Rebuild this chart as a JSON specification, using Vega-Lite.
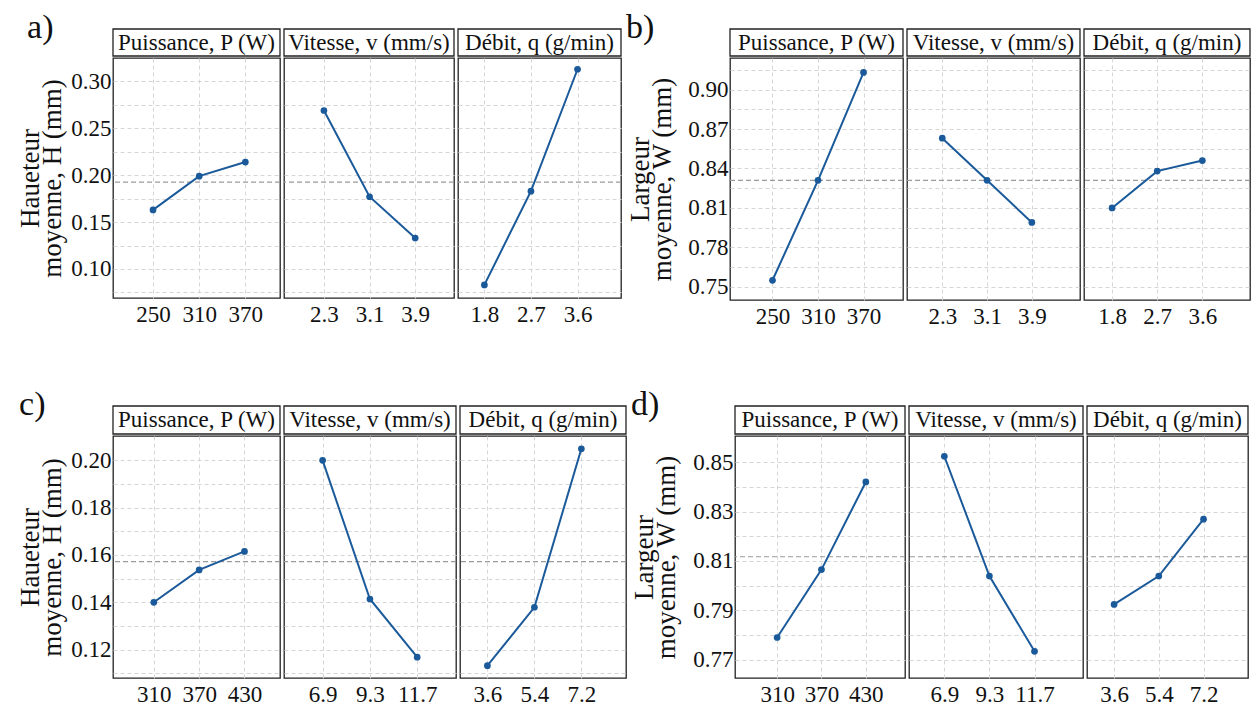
{
"$schema": "https://vega.github.io/schema/vega-lite/v6.json",
"padding": {"left": 16, "top": 11, "right": 2, "bottom": 2},
"background": "white",
"datasets": {
"A": [
{"f":"P","x":250,"y":0.163,"moy":0.1925},{"f":"P","x":310,"y":0.199,"moy":0.1925},{"f":"P","x":370,"y":0.214,"moy":0.1925},
{"f":"v","x":2.3,"y":0.269,"moy":0.1925},{"f":"v","x":3.1,"y":0.177,"moy":0.1925},{"f":"v","x":3.9,"y":0.133,"moy":0.1925},
{"f":"q","x":1.8,"y":0.083,"moy":0.1925},{"f":"q","x":2.7,"y":0.183,"moy":0.1925},{"f":"q","x":3.6,"y":0.313,"moy":0.1925}],
"B": [
{"f":"P","x":250,"y":0.755,"moy":0.831},{"f":"P","x":310,"y":0.831,"moy":0.831},{"f":"P","x":370,"y":0.913,"moy":0.831},
{"f":"v","x":2.3,"y":0.863,"moy":0.831},{"f":"v","x":3.1,"y":0.831,"moy":0.831},{"f":"v","x":3.9,"y":0.799,"moy":0.831},
{"f":"q","x":1.8,"y":0.810,"moy":0.831},{"f":"q","x":2.7,"y":0.838,"moy":0.831},{"f":"q","x":3.6,"y":0.846,"moy":0.831}],
"C": [
{"f":"P","x":310,"y":0.140,"moy":0.1572},{"f":"P","x":370,"y":0.1537,"moy":0.1572},{"f":"P","x":430,"y":0.1615,"moy":0.1572},
{"f":"v","x":6.9,"y":0.200,"moy":0.1572},{"f":"v","x":9.3,"y":0.1414,"moy":0.1572},{"f":"v","x":11.7,"y":0.1168,"moy":0.1572},
{"f":"q","x":3.6,"y":0.1132,"moy":0.1572},{"f":"q","x":5.4,"y":0.1379,"moy":0.1572},{"f":"q","x":7.2,"y":0.2049,"moy":0.1572}],
"D": [
{"f":"P","x":310,"y":0.779,"moy":0.8117},{"f":"P","x":370,"y":0.8065,"moy":0.8117},{"f":"P","x":430,"y":0.842,"moy":0.8117},
{"f":"v","x":6.9,"y":0.8524,"moy":0.8117},{"f":"v","x":9.3,"y":0.8039,"moy":0.8117},{"f":"v","x":11.7,"y":0.7734,"moy":0.8117},
{"f":"q","x":3.6,"y":0.7924,"moy":0.8117},{"f":"q","x":5.4,"y":0.8039,"moy":0.8117},{"f":"q","x":7.2,"y":0.8269,"moy":0.8117}]
},
"vconcat": [
{"hconcat": [
{"title": {"text": "a)", "dx": 11}, "spacing": 0, "hconcat": [
 {"spacing": 0, "vconcat": [
  {"width": 167, "height": 27, "data": {"values": [{"t": "Puissance, P (W)"}]}, "layer": [{"mark": {"type": "rect", "fill": "white", "stroke": "#222222", "strokeWidth": 1.3}}, {"mark": {"type": "text"}, "encoding": {"text": {"field": "t"}}}]},
  {"width": 167, "height": 240, "data": {"name": "A"}, "transform": [{"filter": "datum.f == 'P'"}], "layer": [
   {"mark": {"type": "rule", "color": "#9a9a9a", "strokeDash": [5,3], "strokeWidth": 1.2}, "encoding": {"y": {"field": "moy", "type": "quantitative", "aggregate": "mean", "scale": {"domain": [0.069,0.325], "nice": false, "zero": false}, "axis": {"values": [0.075,0.1,0.125,0.15,0.175,0.2,0.225,0.25,0.275,0.3], "labelExpr": "round(datum.value*1000) % 50 == 0 ? format(datum.value, '.2f') : ''", "title": ["Haueteur", "moyenne, H (mm)"]}}}},
   {"mark": {"type": "line", "color": "#1b5a9a", "strokeWidth": 2, "point": {"filled": true, "size": 45, "color": "#1b5a9a"}}, "encoding": {
    "x": {"field": "x", "type": "quantitative", "scale": {"domain": [198,415], "nice": false, "zero": false}, "axis": {"values": [250,310,370], "format": "d", "title": null}},
    "y": {"field": "y", "type": "quantitative", "scale": {"domain": [0.069,0.325], "nice": false, "zero": false}, "axis": {"values": [0.075,0.1,0.125,0.15,0.175,0.2,0.225,0.25,0.275,0.3], "labelExpr": "round(datum.value*1000) % 50 == 0 ? format(datum.value, '.2f') : ''", "title": ["Haueteur", "moyenne, H (mm)"]}}}}
  ]}
 ]},
 {"spacing": 0, "vconcat": [
  {"width": 170, "height": 27, "data": {"values": [{"t": "Vitesse, v (mm/s)"}]}, "layer": [{"mark": {"type": "rect", "fill": "white", "stroke": "#222222", "strokeWidth": 1.3}}, {"mark": {"type": "text"}, "encoding": {"text": {"field": "t"}}}]},
  {"width": 170, "height": 240, "data": {"name": "A"}, "transform": [{"filter": "datum.f == 'v'"}], "layer": [
   {"mark": {"type": "rule", "color": "#9a9a9a", "strokeDash": [5,3], "strokeWidth": 1.2}, "encoding": {"y": {"field": "moy", "type": "quantitative", "aggregate": "mean", "scale": {"domain": [0.069,0.325], "nice": false, "zero": false}, "axis": {"values": [0.075,0.1,0.125,0.15,0.175,0.2,0.225,0.25,0.275,0.3], "labels": false, "title": null, "minExtent": 0, "maxExtent": 0}}}},
   {"mark": {"type": "line", "color": "#1b5a9a", "strokeWidth": 2, "point": {"filled": true, "size": 45, "color": "#1b5a9a"}}, "encoding": {
    "x": {"field": "x", "type": "quantitative", "scale": {"domain": [1.60,4.58], "nice": false, "zero": false}, "axis": {"values": [2.3,3.1,3.9], "format": ".1f", "title": null}},
    "y": {"field": "y", "type": "quantitative", "scale": {"domain": [0.069,0.325], "nice": false, "zero": false}, "axis": {"values": [0.075,0.1,0.125,0.15,0.175,0.2,0.225,0.25,0.275,0.3], "labels": false, "title": null, "minExtent": 0, "maxExtent": 0}}}}
  ]}
 ]},
 {"spacing": 0, "vconcat": [
  {"width": 163, "height": 27, "data": {"values": [{"t": "Débit, q (g/min)"}]}, "layer": [{"mark": {"type": "rect", "fill": "white", "stroke": "#222222", "strokeWidth": 1.3}}, {"mark": {"type": "text"}, "encoding": {"text": {"field": "t"}}}]},
  {"width": 163, "height": 240, "data": {"name": "A"}, "transform": [{"filter": "datum.f == 'q'"}], "layer": [
   {"mark": {"type": "rule", "color": "#9a9a9a", "strokeDash": [5,3], "strokeWidth": 1.2}, "encoding": {"y": {"field": "moy", "type": "quantitative", "aggregate": "mean", "scale": {"domain": [0.069,0.325], "nice": false, "zero": false}, "axis": {"values": [0.075,0.1,0.125,0.15,0.175,0.2,0.225,0.25,0.275,0.3], "labels": false, "title": null, "minExtent": 0, "maxExtent": 0}}}},
   {"mark": {"type": "line", "color": "#1b5a9a", "strokeWidth": 2, "point": {"filled": true, "size": 45, "color": "#1b5a9a"}}, "encoding": {
    "x": {"field": "x", "type": "quantitative", "scale": {"domain": [1.29,4.44], "nice": false, "zero": false}, "axis": {"values": [1.8,2.7,3.6], "format": ".1f", "title": null}},
    "y": {"field": "y", "type": "quantitative", "scale": {"domain": [0.069,0.325], "nice": false, "zero": false}, "axis": {"values": [0.075,0.1,0.125,0.15,0.175,0.2,0.225,0.25,0.275,0.3], "labels": false, "title": null, "minExtent": 0, "maxExtent": 0}}}}
  ]}
 ]}
]},
{"title": {"text": "b)", "dx": 0}, "spacing": 0, "hconcat": [
 {"spacing": 0, "vconcat": [
  {"width": 173, "height": 27, "data": {"values": [{"t": "Puissance, P (W)"}]}, "layer": [{"mark": {"type": "rect", "fill": "white", "stroke": "#222222", "strokeWidth": 1.3}}, {"mark": {"type": "text"}, "encoding": {"text": {"field": "t"}}}]},
  {"width": 173, "height": 242, "data": {"name": "B"}, "transform": [{"filter": "datum.f == 'P'"}], "layer": [
   {"mark": {"type": "rule", "color": "#9a9a9a", "strokeDash": [5,3], "strokeWidth": 1.2}, "encoding": {"y": {"field": "moy", "type": "quantitative", "aggregate": "mean", "scale": {"domain": [0.740,0.924], "nice": false, "zero": false}, "axis": {"values": [0.75,0.765,0.78,0.795,0.81,0.825,0.84,0.855,0.87,0.885,0.9,0.915], "labelExpr": "round(datum.value*1000) % 30 == 0 ? format(datum.value, '.2f') : ''", "title": ["Largeur", "moyenne, W (mm)"], "titlePadding": 11}}}},
   {"mark": {"type": "line", "color": "#1b5a9a", "strokeWidth": 2, "point": {"filled": true, "size": 45, "color": "#1b5a9a"}}, "encoding": {
    "x": {"field": "x", "type": "quantitative", "scale": {"domain": [194,422], "nice": false, "zero": false}, "axis": {"values": [250,310,370], "format": "d", "title": null}},
    "y": {"field": "y", "type": "quantitative", "scale": {"domain": [0.740,0.924], "nice": false, "zero": false}, "axis": {"values": [0.75,0.765,0.78,0.795,0.81,0.825,0.84,0.855,0.87,0.885,0.9,0.915], "labelExpr": "round(datum.value*1000) % 30 == 0 ? format(datum.value, '.2f') : ''", "title": ["Largeur", "moyenne, W (mm)"], "titlePadding": 11}}}}
  ]}
 ]},
 {"spacing": 0, "vconcat": [
  {"width": 173, "height": 27, "data": {"values": [{"t": "Vitesse, v (mm/s)"}]}, "layer": [{"mark": {"type": "rect", "fill": "white", "stroke": "#222222", "strokeWidth": 1.3}}, {"mark": {"type": "text"}, "encoding": {"text": {"field": "t"}}}]},
  {"width": 173, "height": 242, "data": {"name": "B"}, "transform": [{"filter": "datum.f == 'v'"}], "layer": [
   {"mark": {"type": "rule", "color": "#9a9a9a", "strokeDash": [5,3], "strokeWidth": 1.2}, "encoding": {"y": {"field": "moy", "type": "quantitative", "aggregate": "mean", "scale": {"domain": [0.740,0.924], "nice": false, "zero": false}, "axis": {"values": [0.75,0.765,0.78,0.795,0.81,0.825,0.84,0.855,0.87,0.885,0.9,0.915], "labels": false, "title": null, "minExtent": 0, "maxExtent": 0}}}},
   {"mark": {"type": "line", "color": "#1b5a9a", "strokeWidth": 2, "point": {"filled": true, "size": 45, "color": "#1b5a9a"}}, "encoding": {
    "x": {"field": "x", "type": "quantitative", "scale": {"domain": [1.67,4.76], "nice": false, "zero": false}, "axis": {"values": [2.3,3.1,3.9], "format": ".1f", "title": null}},
    "y": {"field": "y", "type": "quantitative", "scale": {"domain": [0.740,0.924], "nice": false, "zero": false}, "axis": {"values": [0.75,0.765,0.78,0.795,0.81,0.825,0.84,0.855,0.87,0.885,0.9,0.915], "labels": false, "title": null, "minExtent": 0, "maxExtent": 0}}}}
  ]}
 ]},
 {"spacing": 0, "vconcat": [
  {"width": 166, "height": 27, "data": {"values": [{"t": "Débit, q (g/min)"}]}, "layer": [{"mark": {"type": "rect", "fill": "white", "stroke": "#222222", "strokeWidth": 1.3}}, {"mark": {"type": "text"}, "encoding": {"text": {"field": "t"}}}]},
  {"width": 166, "height": 242, "data": {"name": "B"}, "transform": [{"filter": "datum.f == 'q'"}], "layer": [
   {"mark": {"type": "rule", "color": "#9a9a9a", "strokeDash": [5,3], "strokeWidth": 1.2}, "encoding": {"y": {"field": "moy", "type": "quantitative", "aggregate": "mean", "scale": {"domain": [0.740,0.924], "nice": false, "zero": false}, "axis": {"values": [0.75,0.765,0.78,0.795,0.81,0.825,0.84,0.855,0.87,0.885,0.9,0.915], "labels": false, "title": null, "minExtent": 0, "maxExtent": 0}}}},
   {"mark": {"type": "line", "color": "#1b5a9a", "strokeWidth": 2, "point": {"filled": true, "size": 45, "color": "#1b5a9a"}}, "encoding": {
    "x": {"field": "x", "type": "quantitative", "scale": {"domain": [1.24,4.55], "nice": false, "zero": false}, "axis": {"values": [1.8,2.7,3.6], "format": ".1f", "title": null}},
    "y": {"field": "y", "type": "quantitative", "scale": {"domain": [0.740,0.924], "nice": false, "zero": false}, "axis": {"values": [0.75,0.765,0.78,0.795,0.81,0.825,0.84,0.855,0.87,0.885,0.9,0.915], "labels": false, "title": null, "minExtent": 0, "maxExtent": 0}}}}
  ]}
 ]}
]}
], "spacing": 3},
{"hconcat": [
{"title": {"text": "c)", "dx": 3}, "spacing": 0, "hconcat": [
 {"spacing": 0, "vconcat": [
  {"width": 167, "height": 28, "data": {"values": [{"t": "Puissance, P (W)"}]}, "layer": [{"mark": {"type": "rect", "fill": "white", "stroke": "#222222", "strokeWidth": 1.3}}, {"mark": {"type": "text"}, "encoding": {"text": {"field": "t"}}}]},
  {"width": 167, "height": 242, "data": {"name": "C"}, "transform": [{"filter": "datum.f == 'P'"}], "layer": [
   {"mark": {"type": "rule", "color": "#9a9a9a", "strokeDash": [5,3], "strokeWidth": 1.2}, "encoding": {"y": {"field": "moy", "type": "quantitative", "aggregate": "mean", "scale": {"domain": [0.108,0.2103], "nice": false, "zero": false}, "axis": {"values": [0.11,0.12,0.13,0.14,0.15,0.16,0.17,0.18,0.19,0.2], "labelExpr": "round(datum.value*100) % 2 == 0 ? format(datum.value, '.2f') : ''", "title": ["Haueteur", "moyenne, H (mm)"]}}}},
   {"mark": {"type": "line", "color": "#1b5a9a", "strokeWidth": 2, "point": {"filled": true, "size": 45, "color": "#1b5a9a"}}, "encoding": {
    "x": {"field": "x", "type": "quantitative", "scale": {"domain": [256,477], "nice": false, "zero": false}, "axis": {"values": [310,370,430], "format": "d", "title": null}},
    "y": {"field": "y", "type": "quantitative", "scale": {"domain": [0.108,0.2103], "nice": false, "zero": false}, "axis": {"values": [0.11,0.12,0.13,0.14,0.15,0.16,0.17,0.18,0.19,0.2], "labelExpr": "round(datum.value*100) % 2 == 0 ? format(datum.value, '.2f') : ''", "title": ["Haueteur", "moyenne, H (mm)"]}}}}
  ]}
 ]},
 {"spacing": 0, "vconcat": [
  {"width": 172, "height": 28, "data": {"values": [{"t": "Vitesse, v (mm/s)"}]}, "layer": [{"mark": {"type": "rect", "fill": "white", "stroke": "#222222", "strokeWidth": 1.3}}, {"mark": {"type": "text"}, "encoding": {"text": {"field": "t"}}}]},
  {"width": 172, "height": 242, "data": {"name": "C"}, "transform": [{"filter": "datum.f == 'v'"}], "layer": [
   {"mark": {"type": "rule", "color": "#9a9a9a", "strokeDash": [5,3], "strokeWidth": 1.2}, "encoding": {"y": {"field": "moy", "type": "quantitative", "aggregate": "mean", "scale": {"domain": [0.108,0.2103], "nice": false, "zero": false}, "axis": {"values": [0.11,0.12,0.13,0.14,0.15,0.16,0.17,0.18,0.19,0.2], "labels": false, "title": null, "minExtent": 0, "maxExtent": 0}}}},
   {"mark": {"type": "line", "color": "#1b5a9a", "strokeWidth": 2, "point": {"filled": true, "size": 45, "color": "#1b5a9a"}}, "encoding": {
    "x": {"field": "x", "type": "quantitative", "scale": {"domain": [4.94,13.67], "nice": false, "zero": false}, "axis": {"values": [6.9,9.3,11.7], "format": ".1f", "title": null}},
    "y": {"field": "y", "type": "quantitative", "scale": {"domain": [0.108,0.2103], "nice": false, "zero": false}, "axis": {"values": [0.11,0.12,0.13,0.14,0.15,0.16,0.17,0.18,0.19,0.2], "labels": false, "title": null, "minExtent": 0, "maxExtent": 0}}}}
  ]}
 ]},
 {"spacing": 0, "vconcat": [
  {"width": 166, "height": 28, "data": {"values": [{"t": "Débit, q (g/min)"}]}, "layer": [{"mark": {"type": "rect", "fill": "white", "stroke": "#222222", "strokeWidth": 1.3}}, {"mark": {"type": "text"}, "encoding": {"text": {"field": "t"}}}]},
  {"width": 166, "height": 242, "data": {"name": "C"}, "transform": [{"filter": "datum.f == 'q'"}], "layer": [
   {"mark": {"type": "rule", "color": "#9a9a9a", "strokeDash": [5,3], "strokeWidth": 1.2}, "encoding": {"y": {"field": "moy", "type": "quantitative", "aggregate": "mean", "scale": {"domain": [0.108,0.2103], "nice": false, "zero": false}, "axis": {"values": [0.11,0.12,0.13,0.14,0.15,0.16,0.17,0.18,0.19,0.2], "labels": false, "title": null, "minExtent": 0, "maxExtent": 0}}}},
   {"mark": {"type": "line", "color": "#1b5a9a", "strokeWidth": 2, "point": {"filled": true, "size": 45, "color": "#1b5a9a"}}, "encoding": {
    "x": {"field": "x", "type": "quantitative", "scale": {"domain": [2.55,8.91], "nice": false, "zero": false}, "axis": {"values": [3.6,5.4,7.2], "format": ".1f", "title": null}},
    "y": {"field": "y", "type": "quantitative", "scale": {"domain": [0.108,0.2103], "nice": false, "zero": false}, "axis": {"values": [0.11,0.12,0.13,0.14,0.15,0.16,0.17,0.18,0.19,0.2], "labels": false, "title": null, "minExtent": 0, "maxExtent": 0}}}}
  ]}
 ]}
]},
{"title": {"text": "d)", "dx": 1}, "spacing": 0, "hconcat": [
 {"spacing": 0, "vconcat": [
  {"width": 170, "height": 28, "data": {"values": [{"t": "Puissance, P (W)"}]}, "layer": [{"mark": {"type": "rect", "fill": "white", "stroke": "#222222", "strokeWidth": 1.3}}, {"mark": {"type": "text"}, "encoding": {"text": {"field": "t"}}}]},
  {"width": 170, "height": 242, "data": {"name": "D"}, "transform": [{"filter": "datum.f == 'P'"}], "layer": [
   {"mark": {"type": "rule", "color": "#9a9a9a", "strokeDash": [5,3], "strokeWidth": 1.2}, "encoding": {"y": {"field": "moy", "type": "quantitative", "aggregate": "mean", "scale": {"domain": [0.7626,0.8606], "nice": false, "zero": false}, "axis": {"values": [0.77,0.78,0.79,0.8,0.81,0.82,0.83,0.84,0.85], "labelExpr": "round(datum.value*100) % 2 == 1 ? format(datum.value, '.2f') : ''", "title": ["Largeur", "moyenne, W (mm)"], "titlePadding": 12}}}},
   {"mark": {"type": "line", "color": "#1b5a9a", "strokeWidth": 2, "point": {"filled": true, "size": 45, "color": "#1b5a9a"}}, "encoding": {
    "x": {"field": "x", "type": "quantitative", "scale": {"domain": [253,483], "nice": false, "zero": false}, "axis": {"values": [310,370,430], "format": "d", "title": null}},
    "y": {"field": "y", "type": "quantitative", "scale": {"domain": [0.7626,0.8606], "nice": false, "zero": false}, "axis": {"values": [0.77,0.78,0.79,0.8,0.81,0.82,0.83,0.84,0.85], "labelExpr": "round(datum.value*100) % 2 == 1 ? format(datum.value, '.2f') : ''", "title": ["Largeur", "moyenne, W (mm)"], "titlePadding": 12}}}}
  ]}
 ]},
 {"spacing": 0, "vconcat": [
  {"width": 174, "height": 28, "data": {"values": [{"t": "Vitesse, v (mm/s)"}]}, "layer": [{"mark": {"type": "rect", "fill": "white", "stroke": "#222222", "strokeWidth": 1.3}}, {"mark": {"type": "text"}, "encoding": {"text": {"field": "t"}}}]},
  {"width": 174, "height": 242, "data": {"name": "D"}, "transform": [{"filter": "datum.f == 'v'"}], "layer": [
   {"mark": {"type": "rule", "color": "#9a9a9a", "strokeDash": [5,3], "strokeWidth": 1.2}, "encoding": {"y": {"field": "moy", "type": "quantitative", "aggregate": "mean", "scale": {"domain": [0.7626,0.8606], "nice": false, "zero": false}, "axis": {"values": [0.77,0.78,0.79,0.8,0.81,0.82,0.83,0.84,0.85], "labels": false, "title": null, "minExtent": 0, "maxExtent": 0}}}},
   {"mark": {"type": "line", "color": "#1b5a9a", "strokeWidth": 2, "point": {"filled": true, "size": 45, "color": "#1b5a9a"}}, "encoding": {
    "x": {"field": "x", "type": "quantitative", "scale": {"domain": [5.02,14.28], "nice": false, "zero": false}, "axis": {"values": [6.9,9.3,11.7], "format": ".1f", "title": null}},
    "y": {"field": "y", "type": "quantitative", "scale": {"domain": [0.7626,0.8606], "nice": false, "zero": false}, "axis": {"values": [0.77,0.78,0.79,0.8,0.81,0.82,0.83,0.84,0.85], "labels": false, "title": null, "minExtent": 0, "maxExtent": 0}}}}
  ]}
 ]},
 {"spacing": 0, "vconcat": [
  {"width": 161, "height": 28, "data": {"values": [{"t": "Débit, q (g/min)"}]}, "layer": [{"mark": {"type": "rect", "fill": "white", "stroke": "#222222", "strokeWidth": 1.3}}, {"mark": {"type": "text"}, "encoding": {"text": {"field": "t"}}}]},
  {"width": 161, "height": 242, "data": {"name": "D"}, "transform": [{"filter": "datum.f == 'q'"}], "layer": [
   {"mark": {"type": "rule", "color": "#9a9a9a", "strokeDash": [5,3], "strokeWidth": 1.2}, "encoding": {"y": {"field": "moy", "type": "quantitative", "aggregate": "mean", "scale": {"domain": [0.7626,0.8606], "nice": false, "zero": false}, "axis": {"values": [0.77,0.78,0.79,0.8,0.81,0.82,0.83,0.84,0.85], "labels": false, "title": null, "minExtent": 0, "maxExtent": 0}}}},
   {"mark": {"type": "line", "color": "#1b5a9a", "strokeWidth": 2, "point": {"filled": true, "size": 45, "color": "#1b5a9a"}}, "encoding": {
    "x": {"field": "x", "type": "quantitative", "scale": {"domain": [2.51,8.99], "nice": false, "zero": false}, "axis": {"values": [3.6,5.4,7.2], "format": ".1f", "title": null}},
    "y": {"field": "y", "type": "quantitative", "scale": {"domain": [0.7626,0.8606], "nice": false, "zero": false}, "axis": {"values": [0.77,0.78,0.79,0.8,0.81,0.82,0.83,0.84,0.85], "labels": false, "title": null, "minExtent": 0, "maxExtent": 0}}}}
  ]}
 ]}
]}
], "spacing": 2}
],
"spacing": 59,
"config": {
 "font": "Liberation Serif",
 "view": {"stroke": "#222222", "strokeWidth": 1.3},
 "axis": {"labelFont": "Liberation Serif", "labelFontSize": 23, "labelColor": "#111111", "titleFont": "Liberation Serif", "titleFontSize": 27, "titleFontWeight": "normal", "titleColor": "#111111", "titleLineHeight": 22, "ticks": false, "domain": false, "grid": true, "gridColor": "#d6d6d6", "gridDash": [4,3], "gridWidth": 1, "labelPadding": 5},
 "axisY": {"labelPadding": 2, "titlePadding": 4},
 "text": {"font": "Liberation Serif", "fontSize": 23, "color": "#111111"},
 "title": {"font": "Liberation Serif", "fontSize": 34, "fontWeight": "normal", "anchor": "start", "frame": "bounds", "color": "#111111", "offset": -17}
}
}
